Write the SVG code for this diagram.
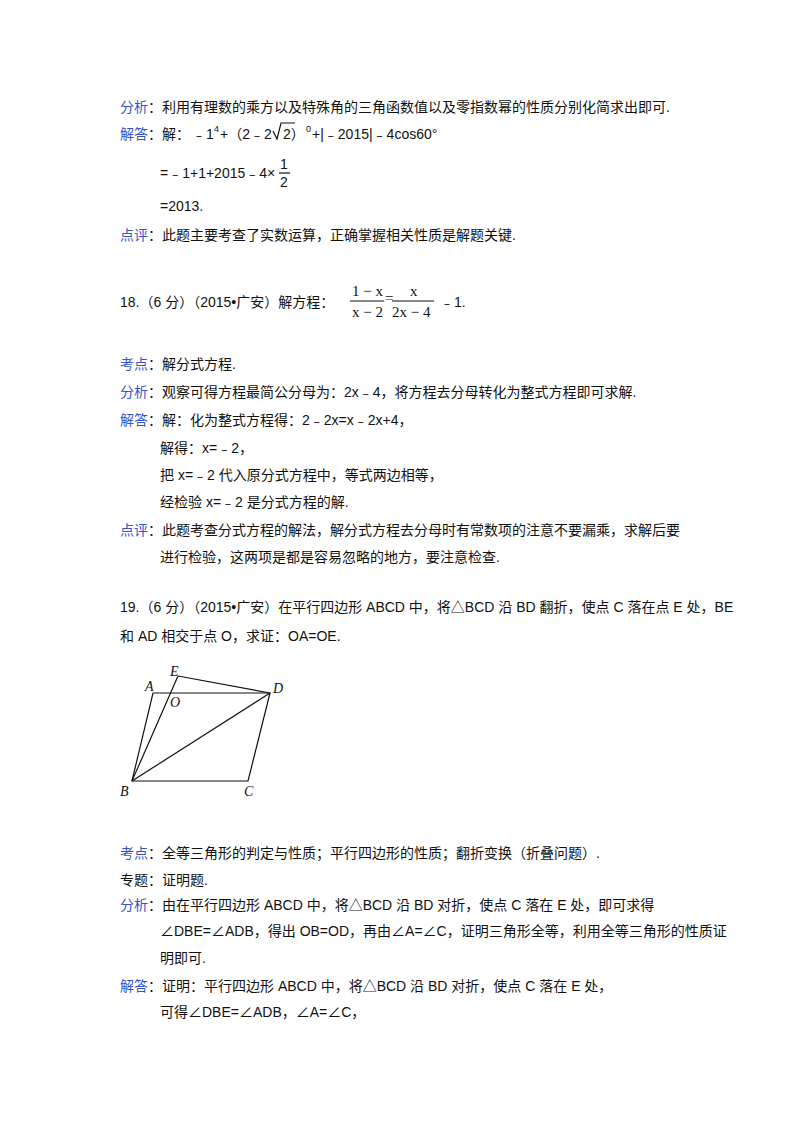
<svg xmlns="http://www.w3.org/2000/svg" width="800" height="1132" viewBox="0 0 800 1132">
<style>
text{font-family:"Liberation Sans","Noto Sans CJK SC",sans-serif;font-size:14px;fill:#111}
text.s{font-size:9px}
.l{fill:#3355cc}
.m{font-family:"Liberation Serif","Noto Sans CJK SC",serif;font-size:15px}
.f{font-family:"Liberation Serif",serif;font-style:italic;font-size:14px}
line,polyline,polygon{stroke:#111;stroke-width:1.2;fill:none}
</style>
<rect width="800" height="1132" fill="#fff"/>
<g id="p17">
<text x="120" y="112"><tspan class="l">分析</tspan>：利用有理数的乘方以及特殊角的三角函数值以及零指数幂的性质分别化简求出即可.</text>
<text x="120" y="139"><tspan class="l">解答</tspan>：解：</text>
<text x="192" y="139">﹣1</text>
<text class="s" x="214" y="132">4</text>
<text x="220" y="139">+（2﹣2</text>
<polyline points="273,131 277,139 281,123 295,123"/>
<text x="283" y="139">2）</text>
<text class="s" x="306" y="132">0</text>
<text x="312" y="139">+|﹣2015|﹣4cos60°</text>
<text x="160" y="178">=﹣1+1+2015﹣4×</text>
<text x="280" y="169">1</text>
<line x1="279" y1="173" x2="290" y2="173"/>
<text x="280" y="187">2</text>
<text x="160" y="211">=2013.</text>
<text x="120" y="240"><tspan class="l">点评</tspan>：此题主要考查了实数运算，正确掌握相关性质是解题关键.</text>
</g>
<g id="p18">
<text x="120" y="307">18.（6 分）（2015•广安）解方程：</text>
<text x="352" y="296" class="m">1 − x</text>
<line x1="350" y1="301" x2="384" y2="301"/>
<text x="352" y="317" class="m">x − 2</text>
<text x="385" y="303" class="m">=</text>
<text x="410" y="296" class="m">x</text>
<line x1="392" y1="301" x2="434" y2="301"/>
<text x="392" y="317" class="m">2x − 4</text>
<text x="440" y="307">﹣1.</text>
<text x="120" y="369"><tspan class="l">考点</tspan>：解分式方程.</text>
<text x="120" y="397"><tspan class="l">分析</tspan>：观察可得方程最简公分母为：2x﹣4，将方程去分母转化为整式方程即可求解.</text>
<text x="120" y="425"><tspan class="l">解答</tspan>：解：化为整式方程得：2﹣2x=x﹣2x+4，</text>
<text x="160" y="453">解得：x=﹣2，</text>
<text x="160" y="480">把 x=﹣2 代入原分式方程中，等式两边相等，</text>
<text x="160" y="507">经检验 x=﹣2 是分式方程的解.</text>
<text x="120" y="535"><tspan class="l">点评</tspan>：此题考查分式方程的解法，解分式方程去分母时有常数项的注意不要漏乘，求解后要</text>
<text x="160" y="562">进行检验，这两项是都是容易忽略的地方，要注意检查.</text>
</g>
<g id="p19">
<text x="120" y="612">19.（6 分）（2015•广安）在平行四边形 ABCD 中，将△BCD 沿 BD 翻折，使点 C 落在点 E 处，BE</text>
<text x="120" y="641">和 AD 相交于点 O，求证：OA=OE.</text>
</g>
<g id="figure">
<polygon points="153,693 270,693 248,781 132,781"/>
<line x1="132" y1="781" x2="270" y2="693"/>
<line x1="132" y1="781" x2="178" y2="676"/>
<line x1="178" y1="676" x2="270" y2="693"/>
<text class="f" x="170" y="676">E</text>
<text class="f" x="145" y="691">A</text>
<text class="f" x="170" y="707">O</text>
<text class="f" x="273" y="693">D</text>
<text class="f" x="120" y="796">B</text>
<text class="f" x="244" y="796">C</text>
</g>
<g id="p19sol">
<text x="120" y="858"><tspan class="l">考点</tspan>：全等三角形的判定与性质；平行四边形的性质；翻折变换（折叠问题）.</text>
<text x="120" y="885">专题：证明题.</text>
<text x="120" y="910"><tspan class="l">分析</tspan>：由在平行四边形 ABCD 中，将△BCD 沿 BD 对折，使点 C 落在 E 处，即可求得</text>
<text x="160" y="936">∠DBE=∠ADB，得出 OB=OD，再由∠A=∠C，证明三角形全等，利用全等三角形的性质证</text>
<text x="160" y="963">明即可.</text>
<text x="120" y="991"><tspan class="l">解答</tspan>：证明：平行四边形 ABCD 中，将△BCD 沿 BD 对折，使点 C 落在 E 处，</text>
<text x="160" y="1017">可得∠DBE=∠ADB，∠A=∠C，</text>
</g>
</svg>
